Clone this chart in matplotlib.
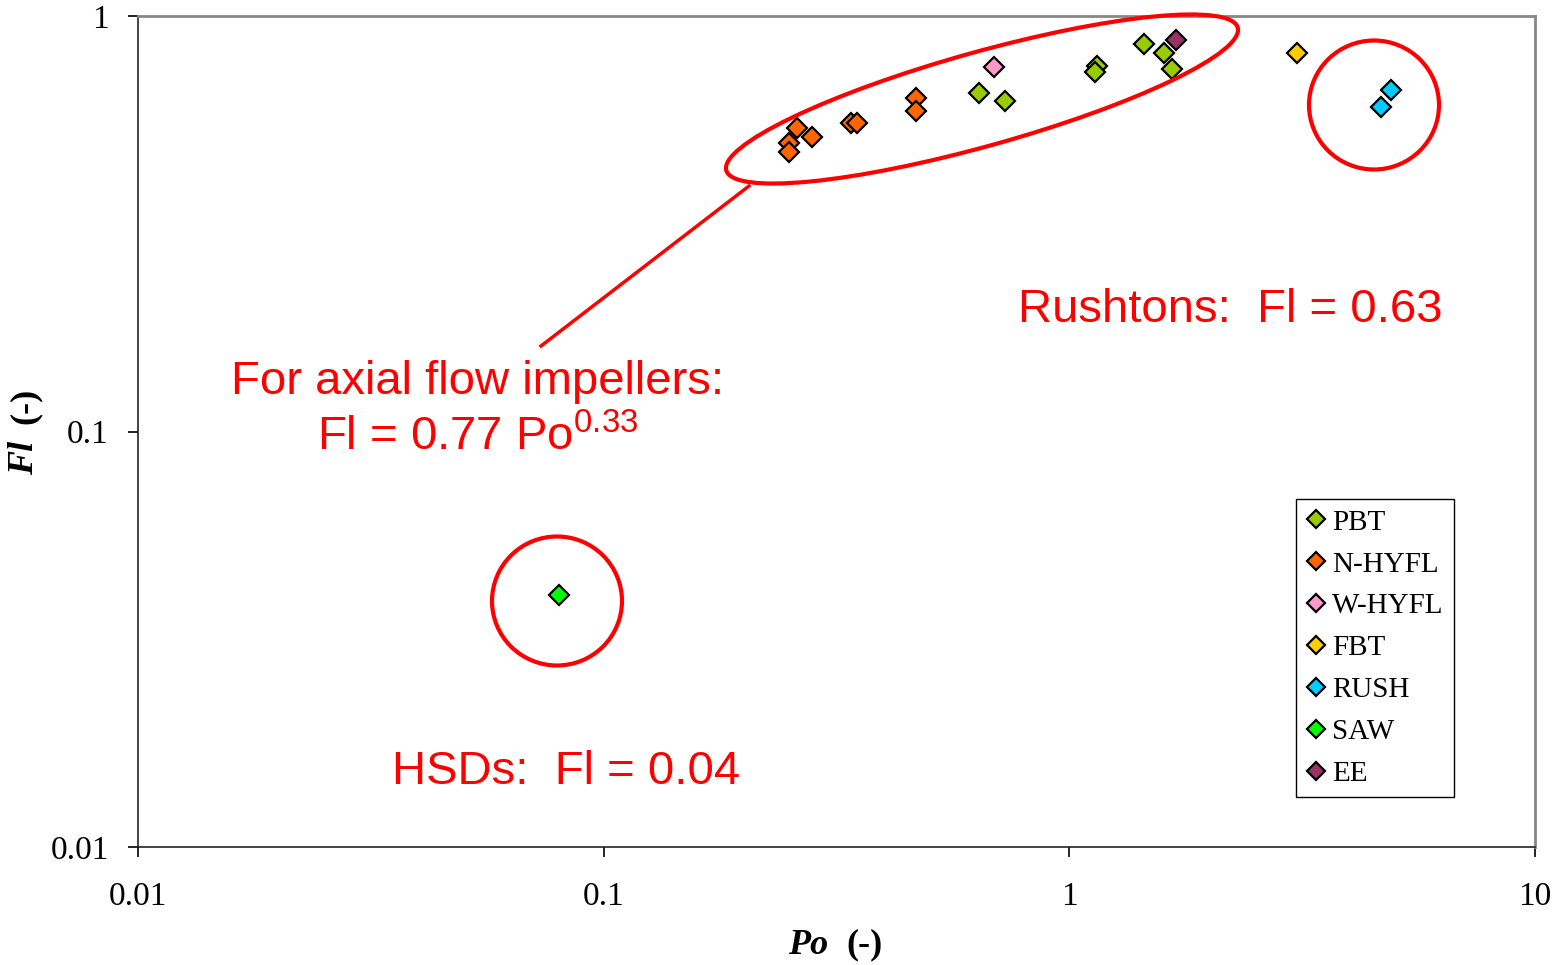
import matplotlib
matplotlib.use("Agg")
import matplotlib.pyplot as plt
import matplotlib.patches as mpatches
from matplotlib.lines import Line2D
from matplotlib.ticker import FixedLocator, FixedFormatter, NullLocator

# values (Po, Fl)
pbt_po = [0.639, 0.729, 1.145, 1.135, 1.446, 1.596, 1.663]
pbt_fl = [0.654, 0.624, 0.758, 0.735, 0.856, 0.816, 0.744]
nhyfl_po = [0.260, 0.280, 0.250, 0.250, 0.340, 0.350, 0.468, 0.468]
nhyfl_fl = [0.537, 0.512, 0.494, 0.471, 0.554, 0.554, 0.634, 0.592]
whyfl_po = [0.689]
whyfl_fl = [0.755]
fbt_po = [3.09]
fbt_fl = [0.816]
rush_po = [4.90, 4.68]
rush_fl = [0.664, 0.605]
saw_po = [0.080]
saw_fl = [0.0403]
ee_po = [1.694]
ee_fl = [0.876]

series = [
    ("PBT", pbt_po, pbt_fl, "#99CC00"),
    ("N-HYFL", nhyfl_po, nhyfl_fl, "#FF6600"),
    ("W-HYFL", whyfl_po, whyfl_fl, "#FF99CC"),
    ("FBT", fbt_po, fbt_fl, "#FFCC00"),
    ("RUSH", rush_po, rush_fl, "#00CCFF"),
    ("SAW", saw_po, saw_fl, "#00FF00"),
    ("EE", ee_po, ee_fl, "#993366"),
]

plt.rcParams['mathtext.fontset'] = 'custom'
plt.rcParams['mathtext.rm'] = 'Liberation Sans'
plt.rcParams['mathtext.it'] = 'Liberation Sans:italic'

W, H = 1552, 965
fig = plt.figure(figsize=(W / 100, H / 100), dpi=100)
ax = fig.add_axes([138 / W, 1 - 847 / H, (1535 - 138) / W, (847 - 16) / H])

for name, po, fl, col in series:
    ax.plot(po, fl, linestyle="none", marker="D", ms=10, mfc=col, mec="black",
            mew=1.6, label=name, zorder=3)

ax.set_xscale("log")
ax.set_yscale("log")
ax.set_xlim(0.01, 10)
ax.set_ylim(0.01, 1)

xt = [0.01, 0.1, 1, 10]
yt = [0.01, 0.1, 1]
ax.xaxis.set_major_locator(FixedLocator(xt))
ax.xaxis.set_major_formatter(FixedFormatter(["0.01", "0.1", "1", "10"]))
ax.yaxis.set_major_locator(FixedLocator(yt))
ax.yaxis.set_major_formatter(FixedFormatter(["0.01", "0.1", "1"]))
ax.xaxis.set_minor_locator(NullLocator())
ax.yaxis.set_minor_locator(NullLocator())
ax.tick_params(axis="both", direction="out", length=7, width=1.2, labelsize=24,
               colors="black")
ax.tick_params(axis="x", pad=18)
ax.tick_params(axis="y", pad=14)
for lab in ax.get_xticklabels() + ax.get_yticklabels():
    lab.set_family("Liberation Serif")

for s in ["top", "right"]:
    ax.spines[s].set_color("#888888")
    ax.spines[s].set_linewidth(2)
for s in ["left", "bottom"]:
    ax.spines[s].set_color("#222222")
    ax.spines[s].set_linewidth(1.2)

# axis titles
fig.text(828 / W, 1 - 945 / H, "Po", family="Liberation Serif", weight="bold",
         style="italic", fontsize=26, ha="right", va="center")
fig.text(846 / W, 1 - 945 / H, "(-)", family="Liberation Serif", weight="bold",
         fontsize=26, ha="left", va="center")
fig.text(25 / W, 1 - 458 / H, "Fl", family="Liberation Serif", weight="bold",
         style="italic", fontsize=26, ha="center", va="center", rotation=90)
fig.text(25 / W, 1 - 406 / H, "(-)", family="Liberation Serif", weight="bold",
         fontsize=26, ha="center", va="center", rotation=90)

# red annotations (drawn in pixel-ish inch coordinates)
tr = fig.dpi_scale_trans
def px(x, y):
    return (x / 100, (H - y) / 100)

ell = mpatches.Ellipse(px(982, 99), 531 / 100, 94 / 100, angle=15.6,
                       transform=tr, fill=False, edgecolor="red", lw=3)
fig.add_artist(ell)
for cx, cy in [(1374, 105), (557, 601)]:
    c = mpatches.Ellipse(px(cx, cy), 130 / 100, 129 / 100, transform=tr,
                         fill=False, edgecolor="red", lw=3)
    fig.add_artist(c)
p1, p2 = px(749, 186), px(541, 346)
fig.add_artist(Line2D([p1[0], p2[0]], [p1[1], p2[1]], transform=tr,
                      color="red", lw=2.5))

red = dict(color="red", family="Liberation Sans", fontsize=34)
fig.text(478 / W, 1 - 382 / H, "For axial flow impellers:", ha="center",
         va="center", **red)
fig.text(478 / W, 1 - 438 / H, r"Fl = 0.77 Po$^{0.33}$", ha="center",
         va="center", **red)
fig.text(1230 / W, 1 - 310 / H, "Rushtons:  Fl = 0.63", ha="center",
         va="center", **red)
fig.text(566 / W, 1 - 772 / H, "HSDs:  Fl = 0.04", ha="center",
         va="center", **red)

leg = ax.legend(loc="upper left", bbox_to_anchor=((1296 - 138) / 1397, (847 - 499) / 831),
                prop={"family": "Liberation Serif", "size": 21},
                markerscale=0.9, handlelength=0.7, handletextpad=0.2,
                labelspacing=0.53, borderpad=0.35, borderaxespad=0,
                frameon=True, fancybox=False, framealpha=1,
                edgecolor="black", numpoints=1)
leg.get_frame().set_linewidth(1.0)

fig.savefig("out.png", dpi=100)
